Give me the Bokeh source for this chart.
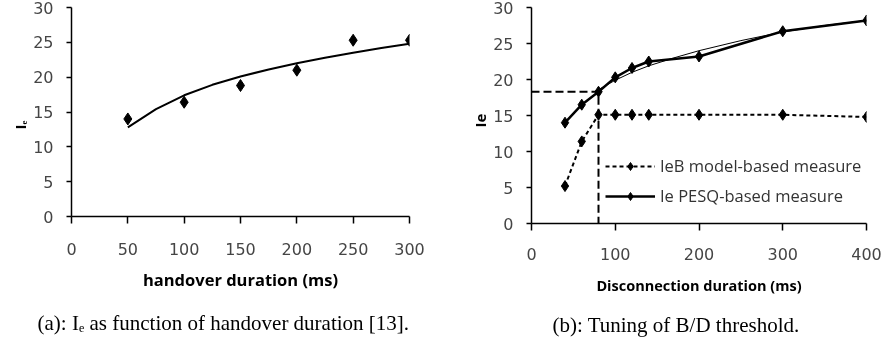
from bokeh.plotting import figure
from bokeh.models import Legend, LegendItem, FixedTicker, Title
from bokeh.embed import file_html
from bokeh.resources import INLINE

# ---------------- data: (a) Ie vs handover duration ----------------
handover_ms = [50, 100, 150, 200, 250, 300]
ie_handover = [14.0, 16.4, 18.8, 21.0, 25.3, 25.3]
trend_ms = [50, 75, 100, 125, 150, 175, 200, 225, 250, 275, 300]
trend_ie = [12.8, 15.4, 17.4, 18.9, 20.1, 21.1, 22.0, 22.8, 23.5, 24.2, 24.8]
xticks_a = [0, 50, 100, 150, 200, 250, 300]

# ---------------- data: (b) tuning of B/D threshold ----------------
disc_ms = [40, 60, 80, 100, 120, 140, 200, 300, 400]
ie_pesq = [14.0, 16.5, 18.3, 20.3, 21.6, 22.5, 23.2, 26.7, 28.2]
ieb_model = [5.2, 11.4, 15.1, 15.1, 15.1, 15.1, 15.1, 15.1, 14.8]
fit_ms = [80, 100, 120, 140, 170, 200, 250, 300, 350, 400]
fit_ie = [18.6, 19.9, 21.0, 21.9, 23.0, 24.0, 25.4, 26.6, 27.5, 28.2]
threshold_ms = 80
threshold_ie = 18.3
xticks_b = [0, 100, 200, 300, 400]
yticks = [0, 5, 10, 15, 20, 25, 30]

series_labels = ["IeB model-based measure", "Ie PESQ-based measure"]
caption_a = "(a): I\u2091 as function of handover duration [13]."
caption_b = "(b): Tuning of B/D threshold."
xtitle_a = "handover duration (ms)"
xtitle_b = "Disconnection duration (ms)"
ytitle_a = "I\u2091"
ytitle_b = "Ie"

SANS = "Open Sans"
TICKF = "DejaVu Sans"
SERIF = "Liberation Serif"


def style_axes(p, xticks, tick_standoff, title_standoff):
    p.xaxis.ticker = FixedTicker(ticks=xticks)
    p.yaxis.ticker = FixedTicker(ticks=yticks)
    for ax in (p.xaxis[0], p.yaxis[0]):
        ax.axis_line_color = "black"
        ax.axis_line_width = 1.5
        ax.major_tick_line_color = "black"
        ax.major_tick_line_width = 1.5
        ax.minor_tick_line_color = None
        ax.major_tick_in = 0
        ax.major_label_text_font = TICKF
        ax.major_label_text_font_size = "16px"
        ax.major_label_text_color = "#454545"
    p.xaxis.major_tick_out = 7
    p.xaxis.major_label_standoff = tick_standoff
    p.yaxis.major_tick_out = 5
    p.yaxis.major_label_standoff = 13
    p.xaxis.axis_label_text_font = SANS
    p.xaxis.axis_label_text_font_style = "bold"
    p.xaxis.axis_label_text_color = "black"
    p.xaxis.axis_label_standoff = title_standoff
    p.xgrid.visible = False
    p.ygrid.visible = False
    p.outline_line_color = None


def side_title(p, text, place, font, size, style, align, offset, standoff):
    p.add_layout(Title(text=text, text_font=font, text_font_size=size,
                       text_font_style=style, text_color="black",
                       align=align, offset=offset, standoff=standoff), place)


# ---------------- figure (a) ----------------
pa = figure(frame_width=338, frame_height=209, x_range=(0, 300), y_range=(0, 30),
            output_backend="svg", toolbar_location=None,
            min_border_left=71, min_border_right=31,
            min_border_top=7, min_border_bottom=10,
            styles={"position": "fixed", "left": "0px", "top": "0px"})
style_axes(pa, xticks_a, 19, 10)
pa.xaxis.axis_label = xtitle_a
pa.xaxis.axis_label_text_font_size = "16.5px"
pa.line(trend_ms, trend_ie, line_color="black", line_width=2)
pa.scatter(handover_ms, ie_handover, marker="diamond", size=12,
           fill_color="black", line_color="black")
side_title(pa, ytitle_a, "left", SANS, "15px", "bold", "left", 87, 2)
side_title(pa, caption_a, "below", SERIF, "21px", "normal", "left", -34, 30)

# ---------------- figure (b) ----------------
pb = figure(frame_width=335, frame_height=216, x_range=(0, 400), y_range=(0, 30),
            output_backend="svg", toolbar_location=None,
            min_border_left=91, min_border_right=19,
            min_border_top=7, min_border_bottom=10,
            styles={"position": "fixed", "left": "440px", "top": "0px"})
style_axes(pb, xticks_b, 17, 13)
pb.xaxis.axis_label = xtitle_b
pb.xaxis.axis_label_text_font_size = "14.5px"

pb.line([0, threshold_ms, threshold_ms], [threshold_ie, threshold_ie, 0],
        line_color="black", line_width=2, line_dash="8 4")
pb.line(fit_ms, fit_ie, line_color="black", line_width=1)
l1 = pb.line(disc_ms, ieb_model, line_color="black", line_width=2,
             line_dash="4 3")
s1 = pb.scatter(disc_ms, ieb_model, marker="diamond", size=11,
                fill_color="black", line_color="black")
l2 = pb.line(disc_ms, ie_pesq, line_color="black", line_width=2.5)
s2 = pb.scatter(disc_ms, ie_pesq, marker="diamond", size=11,
                fill_color="black", line_color="black")

legend = Legend(items=[LegendItem(label=series_labels[0], renderers=[l1, s1]),
                       LegendItem(label=series_labels[1], renderers=[l2, s2])],
                location=(74, 16), padding=0, margin=0, spacing=7,
                glyph_width=50, glyph_height=20, label_height=20,
                label_standoff=5, label_text_font=SANS,
                label_text_font_size="16.5px", label_text_color="#333333",
                border_line_color=None, background_fill_alpha=0)
pb.add_layout(legend)
side_title(pb, ytitle_b, "left", SANS, "15px", "bold", "left", 96, 2)
side_title(pb, caption_b, "below", SERIF, "21px", "normal", "left", 21, 27)

with open("out.html", "w") as f:
    f.write(file_html([pa, pb], INLINE))
